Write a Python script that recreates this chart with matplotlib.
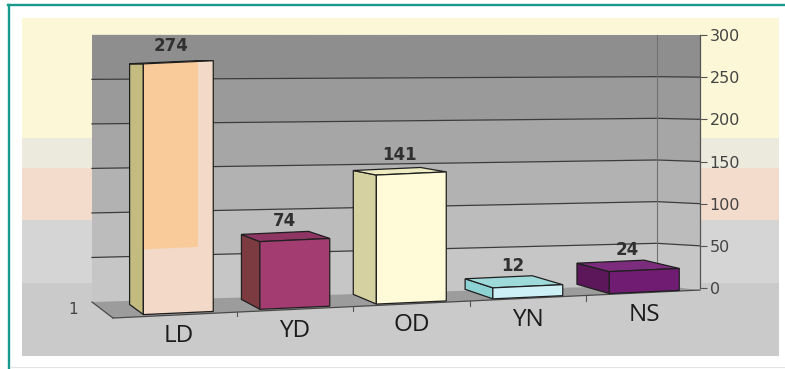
import numpy as np
import matplotlib
matplotlib.use("Agg")
import matplotlib.pyplot as plt
import matplotlib.transforms as mtransforms
from matplotlib.patches import Polygon, Rectangle
from matplotlib.lines import Line2D

# counts per group
categories = ["LD", "YD", "OD", "YN", "NS"]
counts = [274, 74, 141, 12, 24]
value_ticks = [0, 50, 100, 150, 200, 250, 300]

front_colors = ["#F3D9C8", "#A33C70", "#FFFAD8", "#CDEFF6", "#711C73"]
side_colors = ["#C4BB80", "#7B3B40", "#D5D1A0", "#8ED3D3", "#5C165A"]
top_colors = ["#EAC9A2", "#8E3563", "#EFEBC2", "#9FDADB", "#7B2C7C"]
wall_shades = ["#C6C6C6", "#BCBCBC", "#B2B2B2", "#A6A6A6", "#9A9A9A", "#8E8E8E"]  # bottom band first

W, H = 785, 369
plt.rcParams["font.family"] = "DejaVu Sans"
fig = plt.figure(figsize=(W / 100, H / 100), dpi=100)
fig.patch.set_facecolor("white")


def band(x0, y0, x1, y1, color):
    # box in pixels, measured from the top-left corner
    fig.add_artist(Rectangle((x0 / W, 1 - y1 / H), (x1 - x0) / W, (y1 - y0) / H,
                             transform=fig.transFigure, facecolor=color,
                             edgecolor="none", zorder=-10))


band(22, 18, 779, 138, "#FCF7D6")
band(22, 138, 779, 168, "#EBEADD")
band(22, 168, 779, 220, "#F3DCCB")
band(22, 220, 779, 283, "#D5D5D5")
band(22, 283, 779, 356, "#CACACA")

# teal frame on top and left, faint rule at the bottom
fig.add_artist(Line2D([8 / W, 1], [1 - 5 / H, 1 - 5 / H], transform=fig.transFigure,
                      color="#17998B", lw=1.7, zorder=-5))
fig.add_artist(Line2D([9 / W, 9 / W], [0, 1 - 5 / H], transform=fig.transFigure,
                      color="#17998B", lw=1.7, zorder=-5))
fig.add_artist(Line2D([10 / W, 1], [2 / H, 2 / H], transform=fig.transFigure,
                      color="#E4E4E4", lw=0.8, zorder=-5))

# ---- walls, floor and value axis ----
ax_wall = fig.add_axes([92 / W, 81 / H, 608 / W, 253 / H])
ax_wall.set_zorder(1)
ax_wall.patch.set_visible(False)
ax_wall.set_xlim(0, 1)
ax_wall.set_ylim(0, 300)

FC = 0.929  # back-right corner of the box
WALL_F = [0, FC, 1]
WALL_OFF = np.array([-16.6, 3.6, 0.0])
WALL_SCL = np.array([1.056, 0.988, 1.0])


def wall_y(v):
    return WALL_OFF + WALL_SCL * v


for k in range(len(value_ticks) - 1):
    lo, hi = value_ticks[k], value_ticks[k + 1]
    xs = WALL_F + WALL_F[::-1]
    ys = list(wall_y(lo)) + list(wall_y(hi)[::-1])
    ax_wall.add_patch(Polygon(list(zip(xs, ys)), closed=True, facecolor=wall_shades[k],
                              edgecolor="none", clip_on=False))

for v in value_ticks[1:-1]:
    ax_wall.plot(WALL_F, wall_y(v), color="#3C3C3C", lw=0.9, clip_on=False)
ax_wall.plot([FC, FC], [wall_y(0)[1], wall_y(300)[1]], color="#707070", lw=0.8, clip_on=False)

floor = [(0, wall_y(0)[0]), (FC, wall_y(0)[1]), (1, -2.4), (0.0345, -35.6)]
ax_wall.add_patch(Polygon(floor, closed=True, facecolor="#9C9C9C", edgecolor="none", clip_on=False))
ax_wall.plot([0.0345, 1], [-35.6, -2.4], color="#4A4A4A", lw=0.9, clip_on=False)
ax_wall.plot([0, 0.0345], [wall_y(0)[0], -35.6], color="#4A4A4A", lw=0.9, clip_on=False)
ax_wall.text(-0.031, -25, "1", ha="center", va="center", fontsize=11, color="#444444")

for side in ["left", "top", "bottom"]:
    ax_wall.spines[side].set_visible(False)
ax_wall.spines["right"].set_color("#555555")
ax_wall.spines["right"].set_linewidth(0.9)
ax_wall.set_xticks([])
ax_wall.set_yticks(value_ticks)
ax_wall.yaxis.tick_right()
ax_wall.tick_params(axis="y", direction="out", length=5, width=0.8, color="#555555",
                    labelsize=11.5, labelcolor="#444444", pad=2)

# ---- bars on the front plane ----
ax = fig.add_axes([0, 0, 1, 1])
ax.set_zorder(2)
ax.patch.set_visible(False)
ax.axis("off")

X0_PX, CAT_PX, BASE_PX, UNIT_PX = 178.3, 116.5, 56.0, 0.915
TILT = 5.25 / UNIT_PX        # baseline rises to the right
VP = np.array([-3.25, 294.0])  # vanishing point, data units
DEPTH_K = 0.96
BW = 0.6
EDGE = "#1F1F1F"

skew = mtransforms.Affine2D(np.array([[1, 0, 0], [TILT, 1, 0], [0, 0, 1]], float))
front = skew + ax.transData


def recede(x, v):
    return tuple(VP + DEPTH_K * (np.array([x, v]) - VP))


for i, (v, fc, sc, tc) in enumerate(zip(counts, front_colors, side_colors, top_colors)):
    xl, xr = i - BW / 2, i + BW / 2
    ax.add_patch(Polygon([(xl, 0), (xl, v), recede(xl, v), recede(xl, 0)], closed=True,
                         transform=front, facecolor=sc, edgecolor=EDGE, lw=0.9))
    ax.add_patch(Polygon([(xl, v), (xr, v), recede(xr, v), recede(xl, v)], closed=True,
                         transform=front, facecolor=tc, edgecolor=EDGE, lw=0.9))
    ax.add_patch(Rectangle((xl, 0), BW, v, transform=front, facecolor=fc, edgecolor="none"))
    if i == 0:
        # two-tone face on the tall bar
        ax.add_patch(Rectangle((xl, v * 0.26), BW * 0.78, v * 0.74, transform=front,
                               facecolor="#F9CB9B", edgecolor="none"))
    ax.add_patch(Rectangle((xl, 0), BW, v, transform=front, fill=False, edgecolor=EDGE, lw=0.9))

    mid = ((i + recede(i, v)[0]) / 2, (v + recede(i, v)[1]) / 2)
    ax.annotate(str(v), xy=mid, xycoords=front, xytext=(0, 5), textcoords="offset points",
                ha="center", va="bottom", fontsize=12, fontweight="bold", color="#303030")
    ax.text(i, -25, categories[i], transform=front, ha="center", va="center",
            fontsize=17.5, family="Open Sans", color="#1C1C1C")

for b in np.arange(len(categories) - 1) + 0.5:
    ax.plot([b, b], [-1.5, -6.5], transform=front, color="#555555", lw=0.8)

ax.set_xlim(-X0_PX / CAT_PX, (W - X0_PX) / CAT_PX)
ax.set_ylim(-BASE_PX / UNIT_PX, (H - BASE_PX) / UNIT_PX)

fig.savefig("out.png", dpi=100, facecolor=fig.get_facecolor())
